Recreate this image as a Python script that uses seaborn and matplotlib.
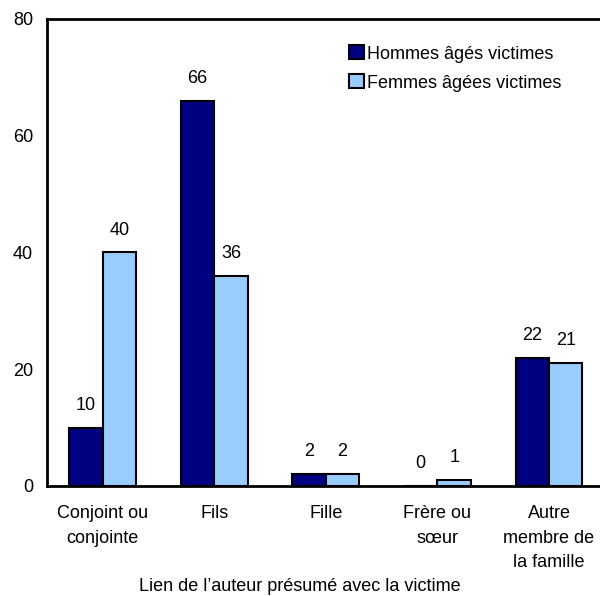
import numpy as np
import pandas as pd
import seaborn as sns
from matplotlib import pyplot as plt

categories = ['Conjoint ou\nconjointe', 'Fils', 'Fille', 'Frère ou\nsœur', 'Autre\nmembre de\nla famille']
hommes = [10, 66, 2, 0, 22]
femmes = [40, 36, 2, 1, 21]
series = ['Hommes âgés victimes', 'Femmes âgées victimes']
colors = ['#000080', '#99CCFF']

df = pd.DataFrame({
    'Lien': categories * 2,
    'Valeur': hommes + femmes,
    'Victime': [series[0]] * len(categories) + [series[1]] * len(categories),
})

sns.set_style('white', {'text.color': 'black', 'xtick.color': 'black',
                        'ytick.color': 'black', 'axes.labelcolor': 'black'})
plt.rcParams['font.family'] = ['Liberation Sans', 'DejaVu Sans']
fs = 13

fig = plt.figure(figsize=(6.0, 5.96), dpi=100)
ax = fig.add_axes([0.078, 0.1846, 0.93, 0.7836])

sns.barplot(data=df, x='Lien', y='Valeur', hue='Victime', palette=colors,
            width=0.6, edgecolor='black', linewidth=1.5, saturation=1, ax=ax)

# value labels above bars
for cont in ax.containers:
    ax.bar_label(cont, fmt='%d', padding=10, fontsize=fs, color='black')

ax.set_ylim(0, 80)
ax.set_yticks([0, 20, 40, 60, 80])
ax.set_xlim(-0.5, 4.5)
ax.tick_params(axis='y', direction='in', length=5, width=0.8, labelsize=fs, pad=10)
ax.tick_params(axis='x', length=0, labelsize=fs, pad=14)
for lbl in ax.get_xticklabels():
    lbl.set_linespacing(1.55)
for s in ['left', 'bottom', 'top']:
    ax.spines[s].set_color('black')
    ax.spines[s].set_linewidth(2)
ax.spines['right'].set_visible(False)
ax.set_ylabel('')
ax.set_xlabel('Lien de l’auteur présumé avec la victime', fontsize=fs, labelpad=5)
ax.xaxis.label.set_x(0.453)

leg = ax.legend(loc='upper left', bbox_to_anchor=(0.513, 0.978), frameon=False,
                fontsize=fs, handlelength=0.8, handleheight=0.8, handletextpad=0.2,
                labelspacing=0.65)
for h in leg.legend_handles:
    h.set_linewidth(1.5)
    h.set_edgecolor('black')

plt.savefig('out.png', dpi=100)
